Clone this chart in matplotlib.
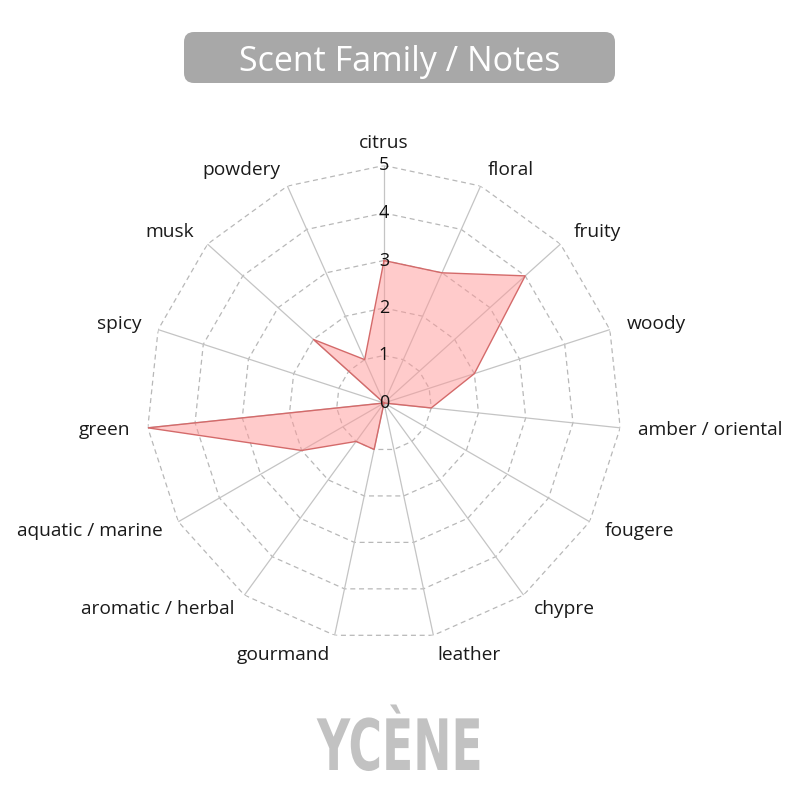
import numpy as np
import matplotlib
matplotlib.use('Agg')
import matplotlib.pyplot as plt
from matplotlib.patches import FancyBboxPatch
from matplotlib.patheffects import AbstractPathEffect
from matplotlib.transforms import Affine2D

categories = ['citrus', 'floral', 'fruity', 'woody', 'amber / oriental', 'fougere',
              'chypre', 'leather', 'gourmand', 'aromatic / herbal', 'aquatic / marine',
              'green', 'spicy', 'musk', 'powdery']
values = [3, 3, 4, 2, 1, 0, 0, 0, 1, 1, 2, 5, 0, 2, 1]
ticks = [0, 1, 2, 3, 4, 5]
title = 'Scent Family / Notes'
brand = 'YCÈNE'


class Squeeze(AbstractPathEffect):
    """Condense glyphs horizontally around a centre x (display pixels)."""
    def __init__(self, sx, cx):
        super().__init__()
        self.sx = sx
        self.cx = cx

    def draw_path(self, renderer, gc, tpath, affine, rgbFace=None):
        aff = affine + Affine2D().translate(-self.cx, 0).scale(self.sx, 1).translate(self.cx, 0)
        renderer.draw_path(gc, tpath, aff, rgbFace)


plt.rcParams['font.family'] = ['Open Sans', 'DejaVu Sans']

fig = plt.figure(figsize=(8, 8), dpi=100)
fig.patch.set_facecolor('white')
ax = fig.add_axes([0.183125, 0.199375, 0.59375, 0.59375], projection='polar')
ax.set_theta_zero_location('N')
ax.set_theta_direction(-1)
ax.set_ylim(0, ticks[-1])
ax.axis('off')

n = len(categories)
theta = np.arange(n) * 2 * np.pi / n
tc = np.append(theta, theta[0])

for k in ticks[1:]:
    ax.plot(tc, [k] * (n + 1), color='#b8b8b8', lw=0.9, ls=(0, (4, 3)), zorder=1)
for t in theta:
    ax.plot([t, t], [0, ticks[-1]], color='#c4c4c4', lw=0.9, zorder=1)

vals = np.append(values, values[0])
ax.fill(tc, vals, facecolor=(1, 0.6, 0.6, 0.5), edgecolor='none', zorder=3)
ax.plot(tc, vals, color='#d46a6a', lw=1.0, zorder=4)

for k in ticks:
    ax.text(0, k, str(k), ha='center', va='center', fontsize=13, color='#111111', zorder=5)

for t, lab in zip(theta, categories):
    s, c = np.sin(t), np.cos(t)
    ha = 'center' if abs(s) < 0.05 else ('left' if s > 0 else 'right')
    va = 'baseline' if c > 0.95 else 'center'
    r_lab = 5.37 if c > -0.95 else 5.43
    ax.text(t, r_lab, lab, ha=ha, va=va, fontsize=13.8, color='#1a1a1a', clip_on=False)

box = FancyBboxPatch((184 / 800, 1 - 83 / 800), 431 / 800, 51 / 800,
                     boxstyle='round,pad=0,rounding_size=0.0125',
                     transform=fig.transFigure, fc='#a8a8a8', ec='none')
fig.patches.append(box)
fig.text(0.5, 1 - 71 / 800, title, ha='center', va='baseline', color='white',
         fontsize=24.5)

fig.text(0.5, 1 - 770 / 800, brand, ha='center', va='baseline', color='#c2c2c2',
         fontsize=51, weight='bold', family=['DejaVu Sans'],
         path_effects=[Squeeze(0.645, 400)])

fig.savefig('out.png', dpi=100, facecolor='white')
